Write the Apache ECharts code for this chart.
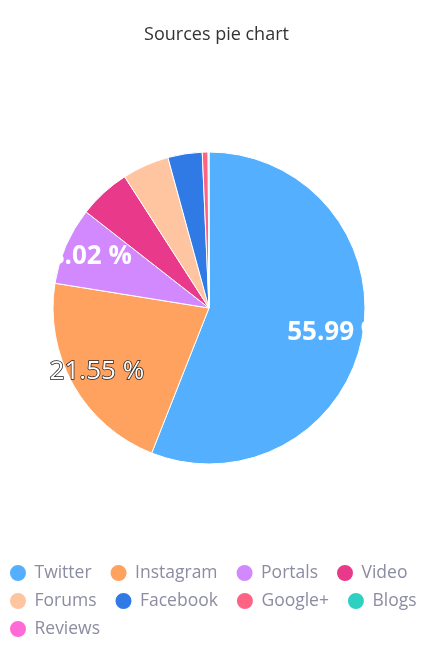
<!DOCTYPE html>
<html>
<head>
<meta charset="utf-8">
<script src="https://cdn.jsdelivr.net/npm/echarts@6/dist/echarts.min.js"></script>
<style>
html,body{margin:0;padding:0;background:#fff;}
#chart{width:433px;height:652px;}
</style>
</head>
<body>
<div id="chart"></div>
<script>
const categories = ['Twitter','Instagram','Portals','Video','Forums','Facebook','Google+','Blogs','Reviews'];
const values = [55.99, 21.55, 8.02, 5.35, 4.85, 3.55, 0.6, 0.05, 0.04];
const colors = ['#54b0ff','#ffa260','#d189fd','#e8398a','#ffc4a0','#2f7ae5','#ff6384','#2ed0c1','#ff6ad6'];
const labelled = ['Twitter','Instagram','Portals'];
const legendRows = [
  ['Twitter','Instagram','Portals','Video'],
  ['Forums','Facebook','Google+','Blogs'],
  ['Reviews']
];

const chart = echarts.init(document.getElementById('chart'));
const FONT = '"Open Sans", sans-serif';

const pieData = categories.map((n, i) => ({ name: n, value: values[i], itemStyle: { color: colors[i] } }));
const labelData = categories.map((n, i) => {
  const show = labelled.indexOf(n) >= 0;
  const outlined = n === 'Instagram';
  return {
    name: n, value: values[i],
    label: {
      show: show,
      fontWeight: outlined ? 'normal' : 'bold',
      textBorderColor: outlined ? '#222' : 'transparent',
      textBorderWidth: outlined ? 1.5 : 0
    }
  };
});

const legends = legendRows.map((row, r) => ({
  data: row,
  left: 8, top: 563 + r * 28,
  padding: 0,
  icon: 'circle', itemWidth: 23, itemHeight: 18,
  symbolKeepAspect: true,
  itemGap: 17,
  textStyle: { fontFamily: FONT, fontSize: 17.5, color: '#8c8ca2' }
}));

chart.setOption({
  animation: false,
  color: colors,
  title: {
    text: 'Sources pie chart',
    left: 'center',
    top: 21,
    textStyle: { fontFamily: FONT, fontSize: 18, fontWeight: 'normal', color: '#333' }
  },
  graphic: [{
    type: 'text', left: 112, top: 300, silent: true,
    style: { text: 'sentione', font: '44px ' + FONT, fill: 'rgba(0,0,0,0.035)' }
  }],
  legend: legends,
  series: [{
    type: 'pie',
    center: [209, 308],
    radius: [0, 156],
    startAngle: 90,
    clockwise: true,
    avoidLabelOverlap: false,
    label: { show: false },
    labelLine: { show: false },
    itemStyle: { borderColor: '#fff', borderWidth: 1 },
    emphasis: { disabled: true },
    data: pieData
  }, {
    type: 'pie',
    center: [209, 308],
    radius: [96, 156],
    startAngle: 90,
    clockwise: true,
    silent: true,
    avoidLabelOverlap: false,
    itemStyle: { color: 'transparent' },
    labelLine: { show: false },
    label: {
      position: 'inside',
      formatter: '{c} %',
      fontFamily: FONT,
      fontSize: 26,
      color: '#fff'
    },
    emphasis: { disabled: true },
    data: labelData
  }]
});
</script>
</body>
</html>
